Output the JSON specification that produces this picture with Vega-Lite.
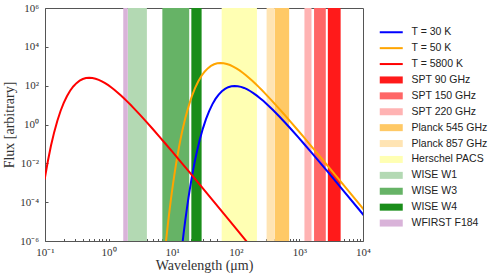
{
  "$schema": "https://vega.github.io/schema/vega-lite/v6.json",
  "width": 318,
  "height": 233,
  "autosize": {"type": "none"},
  "padding": {"left": 45, "top": 8, "right": 128, "bottom": 36},
  "config": {
    "view": {"stroke": "#555", "strokeWidth": 1},
    "axis": {
      "domain": false,
      "grid": false,
      "tickColor": "#555",
      "tickSize": -3,
      "labelFont": "Liberation Serif",
      "labelFontSize": 11,
      "labelColor": "#333",
      "titleFont": "Liberation Serif",
      "titleFontSize": 14,
      "titleFontWeight": "normal",
      "titleColor": "#333",
      "labelOverlap": false,
      "labelFlush": false
    }
  },
  "datasets": {
    "bands": [
      {"name": "SPT 90 GHz", "lo": 2800, "hi": 4450},
      {"name": "SPT 150 GHz", "lo": 1700, "hi": 2600},
      {"name": "SPT 220 GHz", "lo": 1200, "hi": 1550},
      {"name": "Planck 545 GHz", "lo": 410, "hi": 690},
      {"name": "Planck 857 GHz", "lo": 305, "hi": 410},
      {"name": "Herschel PACS", "lo": 60, "hi": 215},
      {"name": "WISE W1", "lo": 2.0, "hi": 4.0},
      {"name": "WISE W3", "lo": 7.0, "hi": 18.5},
      {"name": "WISE W4", "lo": 20, "hi": 29},
      {"name": "WFIRST F184", "lo": 1.7, "hi": 2.0}
    ],
    "curves": [
      {"name": "T = 30 K", "wavelength": 13.52, "flux": 1.0e-7},
      {"name": "T = 30 K", "wavelength": 14.32, "flux": 5.46e-7},
      {"name": "T = 30 K", "wavelength": 15.17, "flux": 2.669e-6},
      {"name": "T = 30 K", "wavelength": 16.07, "flux": 1.174e-5},
      {"name": "T = 30 K", "wavelength": 17.02, "flux": 4.676e-5},
      {"name": "T = 30 K", "wavelength": 18.03, "flux": 1.697e-4},
      {"name": "T = 30 K", "wavelength": 19.10, "flux": 5.636e-4},
      {"name": "T = 30 K", "wavelength": 20.23, "flux": 1.722e-3},
      {"name": "T = 30 K", "wavelength": 21.43, "flux": 4.869e-3},
      {"name": "T = 30 K", "wavelength": 22.70, "flux": 1.277e-2},
      {"name": "T = 30 K", "wavelength": 24.04, "flux": 3.124e-2},
      {"name": "T = 30 K", "wavelength": 26.98, "flux": 0.1538},
      {"name": "T = 30 K", "wavelength": 30.27, "flux": 0.5982},
      {"name": "T = 30 K", "wavelength": 33.96, "flux": 1.885},
      {"name": "T = 30 K", "wavelength": 38.10, "flux": 4.926},
      {"name": "T = 30 K", "wavelength": 42.75, "flux": 10.89},
      {"name": "T = 30 K", "wavelength": 47.96, "flux": 20.76},
      {"name": "T = 30 K", "wavelength": 53.82, "flux": 34.63},
      {"name": "T = 30 K", "wavelength": 60.38, "flux": 51.33},
      {"name": "T = 30 K", "wavelength": 67.75, "flux": 68.52},
      {"name": "T = 30 K", "wavelength": 76.02, "flux": 83.28},
      {"name": "T = 30 K", "wavelength": 85.30, "flux": 93.20},
      {"name": "T = 30 K", "wavelength": 95.70, "flux": 96.89},
      {"name": "T = 30 K", "wavelength": 107.4, "flux": 94.43},
      {"name": "T = 30 K", "wavelength": 120.5, "flux": 86.96},
      {"name": "T = 30 K", "wavelength": 135.2, "flux": 76.15},
      {"name": "T = 30 K", "wavelength": 151.7, "flux": 63.89},
      {"name": "T = 30 K", "wavelength": 170.2, "flux": 51.61},
      {"name": "T = 30 K", "wavelength": 190.9, "flux": 40.35},
      {"name": "T = 30 K", "wavelength": 214.2, "flux": 30.67},
      {"name": "T = 30 K", "wavelength": 240.4, "flux": 22.75},
      {"name": "T = 30 K", "wavelength": 269.7, "flux": 16.52},
      {"name": "T = 30 K", "wavelength": 302.6, "flux": 11.78},
      {"name": "T = 30 K", "wavelength": 339.5, "flux": 8.275},
      {"name": "T = 30 K", "wavelength": 381.0, "flux": 5.733},
      {"name": "T = 30 K", "wavelength": 427.5, "flux": 3.925},
      {"name": "T = 30 K", "wavelength": 479.6, "flux": 2.660},
      {"name": "T = 30 K", "wavelength": 603.8, "flux": 1.191},
      {"name": "T = 30 K", "wavelength": 760.1, "flux": 0.5197},
      {"name": "T = 30 K", "wavelength": 956.9, "flux": 0.2222},
      {"name": "T = 30 K", "wavelength": 1205, "flux": 0.09348},
      {"name": "T = 30 K", "wavelength": 1517, "flux": 0.03886},
      {"name": "T = 30 K", "wavelength": 1910, "flux": 0.01601},
      {"name": "T = 30 K", "wavelength": 2697, "flux": 4.175e-3},
      {"name": "T = 30 K", "wavelength": 3810, "flux": 1.077e-3},
      {"name": "T = 30 K", "wavelength": 4796, "flux": 4.345e-4},
      {"name": "T = 30 K", "wavelength": 8530, "flux": 4.443e-5},
      {"name": "T = 30 K", "wavelength": 15170, "flux": 4.497e-6},

      {"name": "T = 50 K", "wavelength": 7.228, "flux": 3.55e-8},
      {"name": "T = 50 K", "wavelength": 8.110, "flux": 1.516e-6},
      {"name": "T = 50 K", "wavelength": 8.590, "flux": 8.27e-6},
      {"name": "T = 50 K", "wavelength": 9.099, "flux": 4.04e-5},
      {"name": "T = 50 K", "wavelength": 9.638, "flux": 1.777e-4},
      {"name": "T = 50 K", "wavelength": 10.21, "flux": 7.077e-4},
      {"name": "T = 50 K", "wavelength": 10.81, "flux": 2.569e-3},
      {"name": "T = 50 K", "wavelength": 11.46, "flux": 8.531e-3},
      {"name": "T = 50 K", "wavelength": 12.13, "flux": 0.02607},
      {"name": "T = 50 K", "wavelength": 12.85, "flux": 0.07368},
      {"name": "T = 50 K", "wavelength": 13.61, "flux": 0.1932},
      {"name": "T = 50 K", "wavelength": 14.42, "flux": 0.4728},
      {"name": "T = 50 K", "wavelength": 16.18, "flux": 2.328},
      {"name": "T = 50 K", "wavelength": 18.16, "flux": 9.055},
      {"name": "T = 50 K", "wavelength": 20.37, "flux": 28.53},
      {"name": "T = 50 K", "wavelength": 22.86, "flux": 74.56},
      {"name": "T = 50 K", "wavelength": 25.64, "flux": 164.9},
      {"name": "T = 50 K", "wavelength": 28.77, "flux": 314.1},
      {"name": "T = 50 K", "wavelength": 32.28, "flux": 524.1},
      {"name": "T = 50 K", "wavelength": 36.22, "flux": 777.1},
      {"name": "T = 50 K", "wavelength": 40.64, "flux": 1037},
      {"name": "T = 50 K", "wavelength": 45.60, "flux": 1261},
      {"name": "T = 50 K", "wavelength": 51.17, "flux": 1411},
      {"name": "T = 50 K", "wavelength": 57.41, "flux": 1467},
      {"name": "T = 50 K", "wavelength": 64.42, "flux": 1430},
      {"name": "T = 50 K", "wavelength": 72.28, "flux": 1316},
      {"name": "T = 50 K", "wavelength": 81.10, "flux": 1153},
      {"name": "T = 50 K", "wavelength": 90.99, "flux": 966.9},
      {"name": "T = 50 K", "wavelength": 102.1, "flux": 781.2},
      {"name": "T = 50 K", "wavelength": 114.6, "flux": 610.7},
      {"name": "T = 50 K", "wavelength": 128.5, "flux": 464.1},
      {"name": "T = 50 K", "wavelength": 144.2, "flux": 344.3},
      {"name": "T = 50 K", "wavelength": 161.8, "flux": 250.1},
      {"name": "T = 50 K", "wavelength": 181.6, "flux": 178.3},
      {"name": "T = 50 K", "wavelength": 203.7, "flux": 125.2},
      {"name": "T = 50 K", "wavelength": 228.6, "flux": 86.77},
      {"name": "T = 50 K", "wavelength": 256.4, "flux": 59.39},
      {"name": "T = 50 K", "wavelength": 287.7, "flux": 40.27},
      {"name": "T = 50 K", "wavelength": 362.2, "flux": 18.04},
      {"name": "T = 50 K", "wavelength": 456.0, "flux": 7.866},
      {"name": "T = 50 K", "wavelength": 574.1, "flux": 3.362},
      {"name": "T = 50 K", "wavelength": 722.8, "flux": 1.415},
      {"name": "T = 50 K", "wavelength": 909.9, "flux": 0.5882},
      {"name": "T = 50 K", "wavelength": 1146, "flux": 0.2423},
      {"name": "T = 50 K", "wavelength": 1618, "flux": 0.06321},
      {"name": "T = 50 K", "wavelength": 2286, "flux": 0.01631},
      {"name": "T = 50 K", "wavelength": 2877, "flux": 6.577e-3},
      {"name": "T = 50 K", "wavelength": 5117, "flux": 6.725e-4},
      {"name": "T = 50 K", "wavelength": 9099, "flux": 6.807e-5},
      {"name": "T = 50 K", "wavelength": 20370, "flux": 2.735e-6},

      {"name": "T = 5800 K", "wavelength": 0.09876, "flux": 1.483e-3},
      {"name": "T = 5800 K", "wavelength": 0.1108, "flux": 0.01281},
      {"name": "T = 5800 K", "wavelength": 0.1243, "flux": 0.08215},
      {"name": "T = 5800 K", "wavelength": 0.1395, "flux": 0.4046},
      {"name": "T = 5800 K", "wavelength": 0.1565, "flux": 1.574},
      {"name": "T = 5800 K", "wavelength": 0.1756, "flux": 4.960},
      {"name": "T = 5800 K", "wavelength": 0.1971, "flux": 12.96},
      {"name": "T = 5800 K", "wavelength": 0.2211, "flux": 28.65},
      {"name": "T = 5800 K", "wavelength": 0.2481, "flux": 54.59},
      {"name": "T = 5800 K", "wavelength": 0.2784, "flux": 91.08},
      {"name": "T = 5800 K", "wavelength": 0.3124, "flux": 135.0},
      {"name": "T = 5800 K", "wavelength": 0.3505, "flux": 180.3},
      {"name": "T = 5800 K", "wavelength": 0.3932, "flux": 219.1},
      {"name": "T = 5800 K", "wavelength": 0.4412, "flux": 245.2},
      {"name": "T = 5800 K", "wavelength": 0.4951, "flux": 254.9},
      {"name": "T = 5800 K", "wavelength": 0.5555, "flux": 248.4},
      {"name": "T = 5800 K", "wavelength": 0.6233, "flux": 228.7},
      {"name": "T = 5800 K", "wavelength": 0.6993, "flux": 200.3},
      {"name": "T = 5800 K", "wavelength": 0.7847, "flux": 168.1},
      {"name": "T = 5800 K", "wavelength": 0.8804, "flux": 135.7},
      {"name": "T = 5800 K", "wavelength": 0.9876, "flux": 106.1},
      {"name": "T = 5800 K", "wavelength": 1.108, "flux": 80.66},
      {"name": "T = 5800 K", "wavelength": 1.243, "flux": 59.83},
      {"name": "T = 5800 K", "wavelength": 1.395, "flux": 43.46},
      {"name": "T = 5800 K", "wavelength": 1.565, "flux": 30.99},
      {"name": "T = 5800 K", "wavelength": 1.756, "flux": 21.76},
      {"name": "T = 5800 K", "wavelength": 1.971, "flux": 15.08},
      {"name": "T = 5800 K", "wavelength": 2.211, "flux": 10.32},
      {"name": "T = 5800 K", "wavelength": 2.481, "flux": 6.997},
      {"name": "T = 5800 K", "wavelength": 3.124, "flux": 3.134},
      {"name": "T = 5800 K", "wavelength": 3.932, "flux": 1.367},
      {"name": "T = 5800 K", "wavelength": 4.951, "flux": 0.5843},
      {"name": "T = 5800 K", "wavelength": 6.233, "flux": 0.2459},
      {"name": "T = 5800 K", "wavelength": 7.847, "flux": 0.1022},
      {"name": "T = 5800 K", "wavelength": 9.876, "flux": 0.04211},
      {"name": "T = 5800 K", "wavelength": 13.95, "flux": 0.01098},
      {"name": "T = 5800 K", "wavelength": 19.71, "flux": 2.834e-3},
      {"name": "T = 5800 K", "wavelength": 24.81, "flux": 1.143e-3},
      {"name": "T = 5800 K", "wavelength": 44.12, "flux": 1.169e-4},
      {"name": "T = 5800 K", "wavelength": 78.47, "flux": 1.183e-5},
      {"name": "T = 5800 K", "wavelength": 175.6, "flux": 4.753e-7}
    ]
  },
  "layer": [
    {
      "data": {"name": "bands"},
      "mark": {"type": "rect", "clip": true},
      "encoding": {
        "x": {
          "field": "lo",
          "type": "quantitative",
          "title": "Wavelength (μm)",
          "scale": {"type": "log", "domain": [0.1, 10000], "nice": false},
          "axis": {
            "values": [0.1,0.2,0.3,0.4,0.5,0.6,0.7,0.8,0.9,1,2,3,4,5,6,7,8,9,10,20,30,40,50,60,70,80,90,100,200,300,400,500,600,700,800,900,1000,2000,3000,4000,5000,6000,7000,8000,9000,10000],
            "labelExpr": "(abs(log(datum.value)/LN10 - round(log(datum.value)/LN10)) < 0.01) ? ['10⁻¹','10⁰','10¹','10²','10³','10⁴'][round(log(datum.value)/LN10)+1] : ''",
            "tickSize": -2.5,
            "labelPadding": 8,
            "titlePadding": 1
          }
        },
        "x2": {"field": "hi"},
        "color": {
          "field": "name",
          "type": "nominal",
          "scale": {
            "domain": ["T = 30 K","T = 50 K","T = 5800 K","SPT 90 GHz","SPT 150 GHz","SPT 220 GHz","Planck 545 GHz","Planck 857 GHz","Herschel PACS","WISE W1","WISE W3","WISE W4","WFIRST F184"],
            "range": ["#0000ff","#ffa500","#ff0000","#ff1a1a","#ff6666","#ffb3b3","#ffc966","#ffe4b3","#ffffb3","#b3d9b3","#66b366","#1a8d1a","#d9b3d9"]
          },
          "legend": {
            "orient": "none",
            "legendX": 341,
            "legendY": 19,
            "title": null,
            "padding": 0,
            "symbolType": "M-2.3,-0.7H2.3V0.7H-2.3Z",
            "symbolSize": 100,
            "symbolStrokeWidth": 0,
            "symbolOpacity": 1,
            "labelOffset": 15,
            "rowPadding": 4.9,
            "labelFont": "Liberation Sans",
            "labelFontSize": 10.5,
            "labelColor": "#222",
            "encode": {
              "symbols": {
                "update": {
                  "shape": {"signal": "indexof(['T = 30 K','T = 50 K','T = 5800 K'], datum.value) >= 0 ? 'M-2.3,-0.2H2.3V0.2H-2.3Z' : 'M-2.3,-0.7H2.3V0.7H-2.3Z'"},
                  "fill": {"scale": "color", "field": "value"},
                  "fillOpacity": {"value": 1},
                  "strokeWidth": {"value": 0}
                }
              }
            }
          }
        }
      }
    },
    {
      "data": {"name": "curves"},
      "mark": {"type": "line", "clip": true, "strokeWidth": 2},
      "encoding": {
        "x": {"field": "wavelength", "type": "quantitative", "title": "Wavelength (μm)"},
        "y": {
          "field": "flux",
          "type": "quantitative",
          "title": "Flux [arbitrary]",
          "scale": {"type": "log", "domain": [1e-6, 1e6], "nice": false},
          "axis": {
            "values": [1e-6, 1e-4, 1e-2, 1, 100, 10000, 1000000],
            "labelExpr": "['10⁻⁶','','10⁻⁴','','10⁻²','','10⁰','','10²','','10⁴','','10⁶'][round(log(datum.value)/LN10)+6]",
            "tickSize": -3,
            "labelPadding": 9.5,
            "titlePadding": 3
          }
        },
        "color": {"field": "name", "type": "nominal"}
      }
    }
  ]
}
